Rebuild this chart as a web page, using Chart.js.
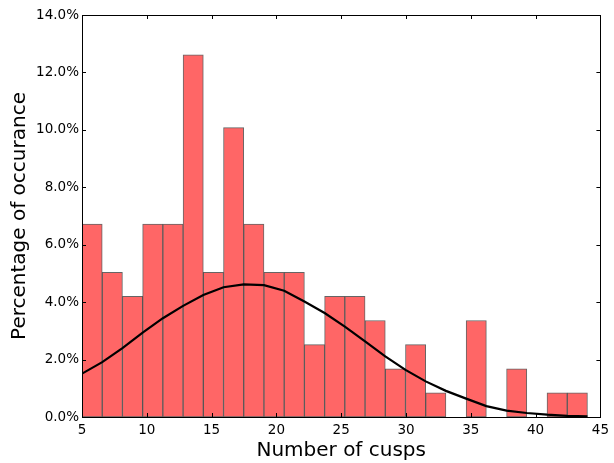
<!DOCTYPE html>
<html>
<head>
<meta charset="utf-8">
<script src="https://cdn.jsdelivr.net/npm/chart.js@4"></script>
<style>
  html, body { margin: 0; padding: 0; background: #fff; }
  #wrap { width: 614px; height: 463px; }
</style>
</head>
<body>
<div id="wrap"><canvas id="chart" width="614" height="463"></canvas></div>
<script>
// Histogram bins (centres) and percentage of occurance
const binCenters = [5.78, 7.34, 8.90, 10.46, 12.02, 13.58, 15.14, 16.70, 18.26, 19.82,
    21.38, 22.94, 24.50, 26.06, 27.62, 29.18, 30.74, 32.30, 33.86, 35.42,
    36.98, 38.54, 40.10, 41.66, 43.22];
const percentages = [6.72, 5.04, 4.20, 6.72, 6.72, 12.61, 5.04, 10.08, 6.72, 5.04,
    5.04, 2.52, 4.20, 4.20, 3.36, 1.68, 2.52, 0.84, 0, 3.36,
    0, 1.68, 0, 0.84, 0.84];

// Fitted curve, read at the bin edges
const curveX = [5, 6.56, 8.12, 9.68, 11.24, 12.80, 14.36, 15.92, 17.48, 19.04,
    20.60, 22.16, 23.72, 25.28, 26.84, 28.40, 29.96, 31.52, 33.08, 34.64,
    36.20, 37.76, 39.32, 40.88, 42.44, 44.00];
const curveY = [1.51, 1.91, 2.40, 2.94, 3.44, 3.87, 4.25, 4.52, 4.62, 4.59,
    4.40, 4.02, 3.62, 3.15, 2.63, 2.11, 1.64, 1.24, 0.91, 0.64,
    0.38, 0.22, 0.14, 0.08, 0.04, 0.02];

const xTicks = [5, 10, 15, 20, 25, 30, 35, 40, 45];
const yTicks = [0, 2, 4, 6, 8, 10, 12, 14];

const font = "'DejaVu Sans', sans-serif";

// frame + inward ticks, matplotlib style
const frameTicks = {
    id: 'frameTicks',
    afterDatasetsDraw(chart) {
        const { ctx, chartArea: a, scales } = chart;
        ctx.save();
        ctx.strokeStyle = '#000';
        ctx.lineWidth = 1;
        ctx.beginPath();
        xTicks.forEach(v => {
            const px = Math.round(scales.x.getPixelForValue(v)) + 0.5;
            ctx.moveTo(px, a.bottom); ctx.lineTo(px, a.bottom - 4);
            ctx.moveTo(px, a.top); ctx.lineTo(px, a.top + 4);
        });
        yTicks.forEach(v => {
            const py = Math.round(scales.y.getPixelForValue(v)) + 0.5;
            ctx.moveTo(a.left, py); ctx.lineTo(a.left + 4, py);
            ctx.moveTo(a.right, py); ctx.lineTo(a.right - 4, py);
        });
        ctx.stroke();
        ctx.strokeRect(Math.round(a.left) + 0.5, Math.round(a.top) + 0.5,
            Math.round(a.right - a.left), Math.round(a.bottom - a.top));
        ctx.restore();
    }
};

new Chart(document.getElementById('chart'), {
    type: 'bar',
    data: {
        datasets: [{
            type: 'line',
            data: curveX.map((x, i) => ({ x: x, y: curveY[i] })),
            borderColor: '#000',
            borderWidth: 2.2,
            pointRadius: 0,
            tension: 0,
            fill: false
        }, {
            type: 'bar',
            data: binCenters.map((x, i) => ({ x: x, y: percentages[i] })),
            backgroundColor: '#ff6666',
            borderColor: 'rgba(50,50,50,0.75)',
            borderWidth: 1,
            borderSkipped: false,
            categoryPercentage: 1,
            barPercentage: 1
        }]
    },
    options: {
        responsive: false,
        animation: false,
        layout: { padding: { top: 15, right: 11, left: 0, bottom: 0 } },
        plugins: { legend: { display: false }, tooltip: { enabled: false } },
        scales: {
            x: {
                type: 'linear',
                min: 5, max: 45,
                offset: false,
                grid: { display: false, drawTicks: false, offset: false },
                border: { display: false },
                afterBuildTicks: s => { s.ticks = xTicks.map(v => ({ value: v })); },
                afterFit: s => { s.height = 46; },
                ticks: {
                    color: '#000',
                    padding: 5,
                    maxRotation: 0,
                    font: { family: font, size: 13.5 },
                    callback: v => String(v)
                },
                title: {
                    display: true,
                    text: 'Number of cusps',
                    color: '#000',
                    padding: { top: 0, bottom: 0 },
                    font: { family: font, size: 20 }
                }
            },
            y: {
                min: 0, max: 14,
                grid: { display: false, drawTicks: false },
                border: { display: false },
                afterBuildTicks: s => { s.ticks = yTicks.map(v => ({ value: v })); },
                afterFit: s => { s.width = 82; },
                ticks: {
                    color: '#000',
                    padding: 3,
                    font: { family: font, size: 13.5 },
                    callback: v => v.toFixed(1) + '%'
                },
                title: {
                    display: true,
                    text: 'Percentage of occurance',
                    color: '#000',
                    padding: { top: 8, bottom: 0 },
                    font: { family: font, size: 20 }
                }
            }
        }
    },
    plugins: [frameTicks]
});
</script>
</body>
</html>
